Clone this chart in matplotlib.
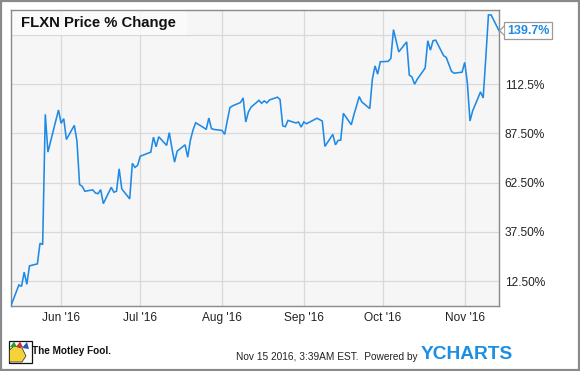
import matplotlib
matplotlib.use("Agg")
import matplotlib.pyplot as plt
import matplotlib.dates as mdates
from matplotlib.patches import Rectangle, Polygon
from matplotlib.transforms import ScaledTranslation
import pandas as pd

plt.rcParams['font.family'] = ['Liberation Sans', 'DejaVu Sans']

# ---------------- data ----------------
dates = [
    "2016-05-13", "2016-05-16", "2016-05-17", "2016-05-18", "2016-05-19", "2016-05-20",
    "2016-05-23", "2016-05-24", "2016-05-25", "2016-05-26", "2016-05-27", "2016-05-31",
    "2016-06-01", "2016-06-02", "2016-06-03", "2016-06-06", "2016-06-07", "2016-06-08",
    "2016-06-09", "2016-06-10", "2016-06-13", "2016-06-14", "2016-06-15", "2016-06-16",
    "2016-06-17", "2016-06-20", "2016-06-21", "2016-06-22", "2016-06-23", "2016-06-24",
    "2016-06-27", "2016-06-28", "2016-06-29", "2016-06-30", "2016-07-01", "2016-07-05",
    "2016-07-06", "2016-07-07", "2016-07-08", "2016-07-11", "2016-07-12", "2016-07-13",
    "2016-07-14", "2016-07-15", "2016-07-18", "2016-07-19", "2016-07-20", "2016-07-21",
    "2016-07-22", "2016-07-25", "2016-07-26", "2016-07-27", "2016-07-28", "2016-07-29",
    "2016-08-01", "2016-08-02", "2016-08-03", "2016-08-04", "2016-08-05", "2016-08-08",
    "2016-08-09", "2016-08-10", "2016-08-11", "2016-08-12", "2016-08-15", "2016-08-16",
    "2016-08-17", "2016-08-18", "2016-08-19", "2016-08-22", "2016-08-23", "2016-08-24",
    "2016-08-25", "2016-08-26", "2016-08-29", "2016-08-30", "2016-08-31", "2016-09-01",
    "2016-09-02", "2016-09-06", "2016-09-07", "2016-09-08", "2016-09-09", "2016-09-12",
    "2016-09-13", "2016-09-14", "2016-09-15", "2016-09-16", "2016-09-19", "2016-09-20",
    "2016-09-21", "2016-09-22", "2016-09-23", "2016-09-26", "2016-09-27", "2016-09-28",
    "2016-09-29", "2016-09-30", "2016-10-03", "2016-10-04", "2016-10-05", "2016-10-06",
    "2016-10-07", "2016-10-10", "2016-10-11", "2016-10-12", "2016-10-13", "2016-10-14",
    "2016-10-17", "2016-10-18", "2016-10-19", "2016-10-20", "2016-10-21", "2016-10-24",
    "2016-10-25", "2016-10-26", "2016-10-27", "2016-10-28", "2016-10-31", "2016-11-01",
    "2016-11-02", "2016-11-03", "2016-11-04", "2016-11-07", "2016-11-08", "2016-11-09",
    "2016-11-10", "2016-11-11", "2016-11-14",
]
pct_change = [
    0.0, 10.5, 9.8, 17.0, 10.8, 20.2,
    21.2, 31.7, 31.0, 97.2, 78.0, 99.4,
    92.6, 95.0, 84.4, 91.6, 83.6, 61.5,
    60.6, 58.1, 58.8, 57.2, 56.9, 58.9,
    51.8, 60.1, 57.6, 58.1, 69.5, 59.3,
    54.2, 72.3, 70.2, 71.3, 75.9, 78.0,
    85.6, 80.7, 85.8, 81.4, 87.9, 80.0,
    72.9, 78.5, 81.7, 75.4, 84.0, 89.2,
    92.9, 90.5, 89.5, 95.3, 89.9, 89.5,
    89.0, 87.0, 94.0, 100.6, 101.5, 103.2,
    105.5, 93.3, 98.4, 100.8, 104.3, 102.8,
    104.0, 103.0, 104.5, 105.9, 104.7, 91.4,
    90.9, 94.1, 92.8, 93.3, 90.7, 93.3,
    92.4, 95.2, 94.5, 93.8, 80.9, 87.0,
    81.7, 83.9, 84.1, 97.7, 91.9, 97.0,
    101.5, 106.2, 103.5, 100.1, 115.1, 121.8,
    117.6, 123.9, 124.1, 125.6, 140.2, 134.5,
    128.9, 134.0, 117.1, 116.2, 112.5, 115.0,
    120.7, 134.6, 129.8, 134.6, 134.9, 127.0,
    126.1, 122.5, 119.0, 118.1, 118.6, 123.6,
    113.2, 93.8, 98.9, 108.6, 105.5, 126.0,
    147.7, 147.7, 139.7,
]
y_ticks = [12.5, 37.5, 62.5, 87.5, 112.5, 137.5]
y_tick_labels = ["12.50%", "37.50%", "62.50%", "87.50%", "112.5%", ""]
x_ticks = ["2016-06-01", "2016-07-01", "2016-08-01", "2016-09-01", "2016-10-01", "2016-11-01"]
x_tick_labels = ["Jun '16", "Jul '16", "Aug '16", "Sep '16", "Oct '16", "Nov '16"]
title = "FLXN Price % Change"
last_label = "139.7%"

# ---------------- layout ----------------
W, H = 580, 371
fig = plt.figure(figsize=(W / 100, H / 100), dpi=100)
fig.patch.set_facecolor("white")

def fx(px):
    return px / W

def fy(py):
    return 1 - py / H

ax_l, ax_r, ax_t, ax_b = 11, 499, 10, 306
ax = fig.add_axes([fx(ax_l), fy(ax_b), fx(ax_r - ax_l), (ax_b - ax_t) / H])
ax.set_facecolor("#f6f6f6")

x = pd.to_datetime(dates)
line_color = "#1f8ae6"
ax.plot(x, pct_change, color=line_color, lw=1.15, solid_joinstyle="miter", zorder=3)

ax.set_xlim(pd.Timestamp("2016-05-13"), pd.Timestamp("2016-11-14"))
ax.set_ylim(-0.2, 150.2)

ax.set_yticks(y_ticks)
ax.set_yticklabels(y_tick_labels)
ax.yaxis.tick_right()
ax.set_xticks(pd.to_datetime(x_ticks))
ax.set_xticklabels(x_tick_labels)
ax.tick_params(axis="both", length=0, labelsize=8.6, colors="#222222")
ax.tick_params(axis="y", pad=4.0)
ax.tick_params(axis="x", pad=4.5)

ax.grid(True, color="#d9d9d9", lw=0.9, zorder=1)
ax.set_axisbelow(True)
for s in ax.spines.values():
    s.set_color("#8a8a8a")
    s.set_linewidth(1.0)

# title box
ax.add_patch(Rectangle((fx(ax_l), fy(35)), fx(187 - ax_l), (35 - ax_t) / H,
                       transform=fig.transFigure, facecolor="#fcfcfc", alpha=0.75,
                       edgecolor="none", zorder=2))
fig.text(fx(21), fy(23), title, fontsize=10.7, fontweight="bold", color="#111111",
         va="center", ha="left")

# last-value label with pointer
last_x = mdates.date2num(x[-1])
last_y = pct_change[-1]
ann = ax.annotate(last_label, xy=(last_x, last_y), xytext=(5.8, 0),
                  textcoords="offset points", ha="left", va="center",
                  fontsize=9, fontweight="bold", color=line_color,
                  bbox=dict(boxstyle="square,pad=0.22", fc="white", ec="#9a9a9a", lw=0.9),
                  annotation_clip=False, zorder=6)
tr = fig.dpi_scale_trans + ScaledTranslation(last_x, last_y, ax.transData)
ptr = [(0.005, 0.0), (0.052, 0.045), (0.052, -0.045)]
ax.add_patch(Polygon(ptr, closed=True, transform=tr, facecolor="white",
                     edgecolor="none", clip_on=False, zorder=7))
ax.plot([0.052, 0.005, 0.052], [0.045, 0.0, -0.045], transform=tr, color="#9a9a9a",
        lw=0.9, clip_on=False, zorder=8)

# footer: Motley Fool logo (simplified)
fig.add_artist(Rectangle((fx(8.5), fy(363)), fx(23), 22.5 / H,
                         transform=fig.transFigure, facecolor="white",
                         edgecolor="#111111", lw=0.9))
fig.add_artist(Polygon([(fx(9.5), fy(362)), (fx(9.5), fy(350)), (fx(14), fy(346)),
                        (fx(22), fy(348)), (fx(26), fy(356)), (fx(22), fy(362))],
                       closed=True, transform=fig.transFigure, facecolor="#f4d23a",
                       edgecolor="#222222", lw=0.5))
fig.add_artist(Polygon([(fx(10), fy(347)), (fx(14), fy(341.5)), (fx(17), fy(347))],
                       closed=True, transform=fig.transFigure, facecolor="#2e9b3a",
                       edgecolor="none"))
fig.add_artist(Polygon([(fx(16), fy(347)), (fx(20), fy(341.5)), (fx(23), fy(347))],
                       closed=True, transform=fig.transFigure, facecolor="#d8302b",
                       edgecolor="none"))
fig.add_artist(Polygon([(fx(22), fy(348)), (fx(27), fy(342)), (fx(29), fy(349))],
                       closed=True, transform=fig.transFigure, facecolor="#2b55b8",
                       edgecolor="none"))
fig.text(fx(32), fy(351.5), "The Motley Fool.", fontsize=7.2, color="#111111",
         va="center", ha="left", fontweight="bold")

fig.text(fx(418), fy(357.5), "Nov 15 2016, 3:39AM EST.  Powered by", fontsize=7.3,
         color="#222222", va="center", ha="right")
fig.text(fx(421), fy(354.5), "YCHARTS", fontsize=13.8, fontweight="bold",
         color="#1c8fe3", va="center", ha="left")

# outer border
fig.add_artist(Rectangle((0.0015, 0.0025), 0.997, 0.995, transform=fig.transFigure,
                         facecolor="none", edgecolor="#8a8a8a", lw=1.6))

fig.savefig("out.png", dpi=100, facecolor="white")
